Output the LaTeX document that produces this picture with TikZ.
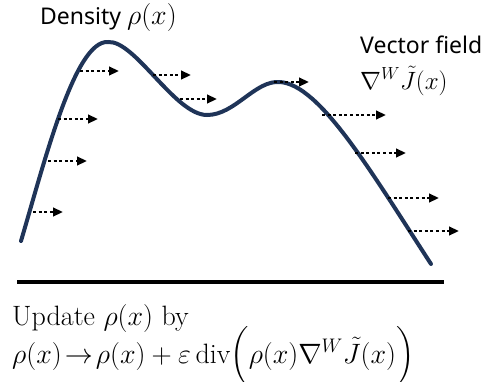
\documentclass[tikz,border=0pt]{standalone}
\usepackage{fix-cm}
\usepackage{fontspec}
\usepackage{amsmath}
\newfontfamily\labelfont{Noto Sans}
\usetikzlibrary{arrows.meta}
\definecolor{curvenavy}{HTML}{1F3458}
\newcommand{\bigmath}[2]{{\fontsize{#1}{28}\selectfont$#2$}}
\tikzset{
  density/.style={line width=4pt, draw=curvenavy, line cap=round},
  fieldarrow/.style={line width=2.6pt, dash pattern=on 3pt off 2.6pt, -{Triangle[length=10pt,width=8.5pt]}},
  groundline/.style={line width=4pt, draw=black},
  toplabel/.style={font=\labelfont\fontsize{23}{26}\selectfont, inner sep=0pt, anchor=base west},
  bottomlabel/.style={font=\fontsize{28}{30}\selectfont, inner sep=0pt, anchor=base west},
}
\begin{document}
\begin{tikzpicture}[x=1pt,y=-1pt]
\useasboundingbox (0,0) rectangle (503,381);
% curve
\coordinate (c0) at (21,241);
\coordinate (c1) at (108,42);
\coordinate (c2) at (207,115);
\coordinate (c3) at (280,82);
\coordinate (c4) at (431,264);
\draw[density] (c0) .. controls (45,160) and (75,40) .. (c1)
  .. controls (135,40) and (175,115) .. (c2)
  .. controls (235,115) and (255,80) .. (c3)
  .. controls (320,85) and (370,170) .. (c4);
% vector field arrows
\foreach \i/\xa/\xb/\y in {1/33/63/212, 2/48/87/161, 3/58/98/119, 4/80/119/71, 5/153/191/75, 6/180/217/99, 7/274/309/82, 8/322/386/115, 9/355/406/153, 10/388/439/198, 11/408/459/231}{
  \coordinate (s\i) at (\xa,\y);
  \coordinate (e\i) at (\xb,\y);
  \draw[fieldarrow] (s\i) -- (e\i);
}
% ground
\coordinate (g0) at (17,282);
\coordinate (g1) at (444,282);
\draw[groundline] (g0) -- (g1);
% labels
\node[toplabel] (dens) at (40,24) {Density \bigmath{28}{\rho(x)}};
\node[toplabel] (vf) at (360,53) {Vector field};
\node[toplabel] (vfm) at (360,89) {\bigmath{25}{\nabla^{W}\tilde{J}(x)}};
\node[bottomlabel] (upd) at (12,325) {Update $\rho(x)$ by};
\node[bottomlabel] (eq) at (12,363) {$\rho(x)\!\rightarrow\!\rho(x)+\varepsilon\,\mathrm{div}\Bigl(\rho(x)\nabla^{W}\tilde{J}(x)\Bigr)$};
\end{tikzpicture}
\end{document}
